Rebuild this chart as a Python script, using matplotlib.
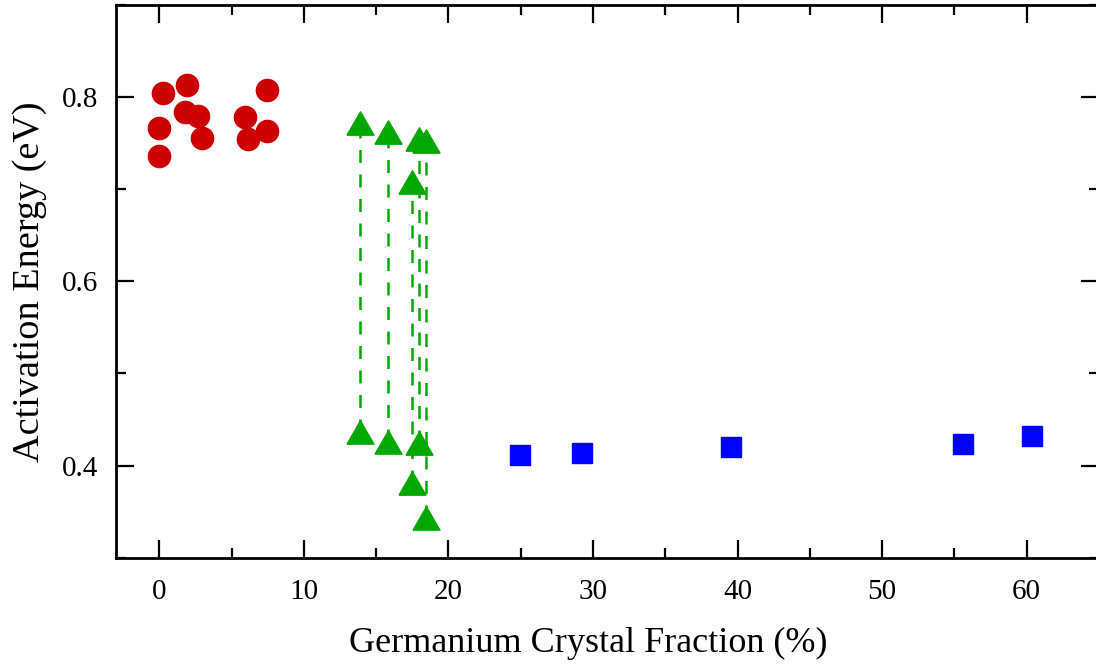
import matplotlib
matplotlib.use("Agg")
import matplotlib.pyplot as plt
from matplotlib.ticker import MultipleLocator

# Amorphous samples (red circles)
amorph_x = [0.28, 1.90, 1.76, 2.68, 0.0, 2.98, 0.0, 5.91, 6.16, 7.44, 7.48]
amorph_e = [0.805, 0.813, 0.784, 0.779, 0.767, 0.756, 0.736, 0.778, 0.755, 0.808, 0.763]

# Transition samples: upper and lower activation energies (green triangles)
trans_x = [13.85, 15.82, 17.48, 17.94, 18.47]
trans_e_high = [0.772, 0.762, 0.708, 0.754, 0.752]
trans_e_low = [0.436, 0.426, 0.381, 0.424, 0.343]

# Crystalline samples (blue squares)
cryst_x = [24.98, 29.27, 39.54, 55.57, 60.37]
cryst_e = [0.412, 0.4135, 0.420, 0.423, 0.432]

x_label = "Germanium Crystal Fraction (%)"
y_label = "Activation Energy (eV)"

plt.rcParams["font.family"] = ["Liberation Serif", "DejaVu Serif"]

W, H = 1096, 665
fig = plt.figure(figsize=(W / 100, H / 100), dpi=100)
ax = fig.add_axes([116 / W, 1 - 557.7 / H, (1099 - 116) / W, (557.7 - 5) / H])

red = "#CC0000"
green = "#00A800"
blue = "#0000FF"

# equilateral triangle marker, centred on its bounding box
tri = [(-1, -0.866), (1, -0.866), (0, 0.866), (-1, -0.866)]

for x, hi, lo in zip(trans_x, trans_e_high, trans_e_low):
    ax.plot([x, x], [lo, hi], color=green, lw=1.8, dashes=(5.2, 4.6), zorder=2)
ax.plot(trans_x, trans_e_high, linestyle="none", marker=tri, ms=19.4,
        color=green, mec=green, zorder=3)
ax.plot(trans_x, trans_e_low, linestyle="none", marker=tri, ms=19.4,
        color=green, mec=green, zorder=3)

ax.plot(amorph_x, amorph_e, linestyle="none", marker="o", ms=16,
        color=red, mec=red, zorder=3)
ax.plot(cryst_x, cryst_e, linestyle="none", marker="s", ms=14,
        color=blue, mec=blue, zorder=3)

ax.set_xlim(-3, 65)
ax.set_ylim(0.3, 0.9)
ax.xaxis.set_major_locator(MultipleLocator(10))
ax.xaxis.set_minor_locator(MultipleLocator(5))
ax.yaxis.set_minor_locator(MultipleLocator(0.1))
ax.set_yticks([0.4, 0.6, 0.8])
ax.set_yticklabels(["0.4", "0.6", "0.8"])

ax.tick_params(which="both", direction="in", top=True, right=True,
               width=1.6, colors="black", labelsize=21)
ax.tick_params(which="major", length=13)
ax.tick_params(which="minor", length=7)
ax.tick_params(axis="y", which="major", pad=13)
ax.tick_params(axis="x", which="major", pad=15)
for s in ax.spines.values():
    s.set_linewidth(2)

ax.set_xlabel(x_label, fontsize=26)
ax.set_ylabel(y_label, fontsize=27.5)
ax.xaxis.set_label_coords(0.48, -0.125)
ax.yaxis.set_label_coords(-0.070, 0.5)

fig.savefig("out.png", dpi=100)
